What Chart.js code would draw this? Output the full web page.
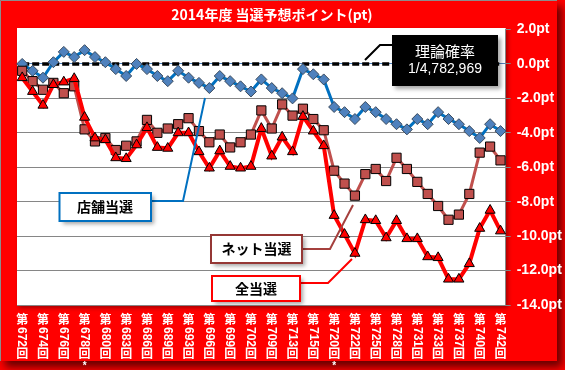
<!DOCTYPE html>
<html lang="ja">
<head>
<meta charset="UTF-8" />
<title>2014年度 当選予想ポイント(pt)</title>
<script src="https://cdn.jsdelivr.net/npm/chart.js"></script>
<style>
  * { margin: 0; padding: 0; }
  body { background: #ff0000; width: 565px; height: 370px; overflow: hidden; }
  canvas { display: block; }
</style>
</head>
<body>
<canvas id="chart" width="565" height="370"></canvas>
<script>
  /*==== データ ==== */
  // 2回ごとに表示する回号（* は注記付き）
  var kaiLabels = [
    '第672回', '第674回', '第676回', '第678回*', '第680回', '第683回',
    '第686回', '第689回', '第693回', '第696回', '第699回', '第702回',
    '第709回', '第713回', '第715回', '第720回*', '第722回', '第725回',
    '第728回', '第731回', '第733回', '第737回', '第740回', '第742回'
  ];

  // 店舗当選
  var tenpo = [
    0.0, -0.4, -0.8, 0.1, 0.7, 0.4, 0.8, 0.4, 0.1, -0.3, -0.7, 0.0,
    -0.3, -0.7, -1.0, -0.4, -0.8, -1.1, -1.4, -0.7, -1.0, -1.3, -1.6, -0.9,
    -1.4, -1.7, -2.0, -0.3, -0.6, -0.9, -2.5, -2.8, -3.2, -2.5, -2.8, -3.2,
    -3.5, -3.8, -3.2, -3.5, -2.8, -3.2, -3.5, -3.9, -4.3, -3.5, -3.9
  ];

  // ネット当選
  var net = [
    -0.4, -1.0, -1.5, -1.1, -1.7, -1.3, -3.8, -4.5, -4.3, -5.0, -4.75, -4.5,
    -3.25, -4.0, -3.75, -3.5, -3.15, -3.9, -4.55, -4.1, -4.85, -4.55, -4.1, -2.7,
    -3.75, -2.35, -3.0, -2.6, -3.2, -3.85, -6.2, -6.95, -7.65, -6.4, -6.1, -6.8,
    -5.45, -6.1, -6.85, -7.55, -8.25, -9.05, -8.75, -7.55, -5.15, -4.8, -5.6
  ];

  // 全当選
  var zen = [
    -0.8, -1.6, -2.4, -1.2, -1.05, -0.85, -3.1, -4.3, -4.4, -5.45, -5.5, -4.7,
    -3.7, -4.85, -4.9, -4.0, -4.0, -5.1, -6.05, -5.05, -5.95, -6.05, -5.95, -3.75,
    -5.35, -4.25, -5.1, -3.05, -3.9, -4.75, -8.8, -9.9, -11.0, -9.05, -9.1, -10.1,
    -9.1, -10.15, -10.15, -11.2, -11.25, -12.5, -12.5, -11.6, -9.55, -8.5, -9.7
  ];

  // 理論確率（基準線）
  var riron = [
    0, 0, 0, 0, 0, 0, 0, 0, 0, 0, 0, 0, 0, 0, 0, 0, 0, 0, 0, 0, 0, 0, 0, 0,
    0, 0, 0, 0, 0, 0, 0, 0, 0, 0, 0, 0, 0, 0, 0, 0, 0, 0, 0, 0, 0, 0, 0
  ];

  var yTicks = [2, 0, -2, -4, -6, -8, -10, -12, -14];

  // カテゴリ（ラベルのない回は空）
  var categories = [];
  for (var i = 0; i < tenpo.length; i++) {
    categories.push(i % 2 === 0 ? kaiLabels[i / 2] : '');
  }

  var JP = '"Noto Sans CJK JP", sans-serif';
  var LAT = '"Liberation Sans", Arial, sans-serif';

  /*==== 背景・タイトル ==== */
  var backPlugin = {
    id: 'back',
    beforeDraw: function (chart) {
      var ctx = chart.ctx, a = chart.chartArea;
      ctx.save();
      ctx.fillStyle = '#ff0000';
      ctx.fillRect(0, 0, chart.width, chart.height);
      // 外枠の影
      ctx.shadowColor = 'rgba(0,0,0,0.6)';
      ctx.shadowBlur = 8;
      ctx.shadowOffsetX = 5;
      ctx.shadowOffsetY = 6;
      ctx.fillRect(0, 0, 557, 361);
      ctx.restore();

      ctx.save();
      ctx.strokeStyle = '#8c8c8c';
      ctx.lineWidth = 1;
      ctx.beginPath();
      ctx.moveTo(0.5, 361);
      ctx.lineTo(0.5, 0.5);
      ctx.lineTo(557, 0.5);
      ctx.stroke();

      // プロットエリア
      ctx.shadowColor = 'rgba(0,0,0,0.35)';
      ctx.shadowBlur = 4;
      ctx.shadowOffsetX = 2;
      ctx.shadowOffsetY = 2;
      ctx.fillStyle = '#ffffff';
      ctx.fillRect(a.left, a.top - 1.5, a.right - a.left, a.bottom - a.top + 2);
      ctx.restore();

      ctx.save();
      ctx.fillStyle = '#ffffff';
      ctx.textAlign = 'center';
      ctx.textBaseline = 'middle';
      ctx.font = 'bold 14px ' + JP;
      ctx.fillText('2014年度 当選予想ポイント(pt)', 272, 15);
      ctx.restore();
    }
  };

  /*==== 回号ラベル（縦書き） ==== */
  var kaiPlugin = {
    id: 'kai',
    afterDraw: function (chart) {
      var ctx = chart.ctx, xs = chart.scales.x;
      ctx.save();
      ctx.fillStyle = '#ffffff';
      kaiLabels.forEach(function (lab, k) {
        var x = xs.getPixelForValue(k * 2);
        var m = lab.match(/^第(\d+)回(\*?)$/);
        ctx.textAlign = 'center';
        ctx.textBaseline = 'middle';
        ctx.font = 'bold 12px ' + JP;
        ctx.fillText('第', x, 319);
        ctx.fillText('回', x, 353.5);
        if (m[2]) {
          ctx.font = 'bold 10px ' + LAT;
          ctx.fillText('*', x, 366);
        }
        ctx.save();
        ctx.translate(x, 327);
        ctx.rotate(Math.PI / 2);
        ctx.textAlign = 'left';
        ctx.font = 'bold 12px ' + LAT;
        ctx.fillText(m[1], 0, 0.5);
        ctx.restore();
      });
      ctx.restore();
    }
  };

  /*==== 吹き出し ==== */
  function box(ctx, x, y, w, h, fill, stroke) {
    ctx.save();
    ctx.shadowColor = 'rgba(0,0,0,0.35)';
    ctx.shadowBlur = 4;
    ctx.shadowOffsetX = 3;
    ctx.shadowOffsetY = 3;
    ctx.fillStyle = fill;
    ctx.fillRect(x, y, w, h);
    ctx.restore();
    if (stroke) {
      ctx.save();
      ctx.strokeStyle = stroke;
      ctx.lineWidth = 2;
      ctx.strokeRect(x, y, w, h);
      ctx.restore();
    }
  }

  function leader(ctx, pts, color) {
    ctx.save();
    ctx.strokeStyle = color;
    ctx.lineWidth = 2;
    ctx.beginPath();
    ctx.moveTo(pts[0][0], pts[0][1]);
    for (var i = 1; i < pts.length; i++) ctx.lineTo(pts[i][0], pts[i][1]);
    ctx.stroke();
    ctx.restore();
  }

  function label(ctx, text, x, y, font, color) {
    ctx.save();
    ctx.fillStyle = color;
    ctx.font = font;
    ctx.textAlign = 'center';
    ctx.textBaseline = 'middle';
    ctx.fillText(text, x, y);
    ctx.restore();
  }

  var calloutPlugin = {
    id: 'callout',
    afterDatasetsDraw: function (chart) {
      var ctx = chart.ctx;
      // 店舗当選
      leader(ctx, [[151, 201], [183, 201], [205, 98]], '#0070c0');
      box(ctx, 59.5, 193, 91.5, 28, '#ffffff', '#0070c0');
      label(ctx, '店舗当選', 105, 207, 'bold 14px ' + JP, '#000');

      // ネット当選
      leader(ctx, [[302, 249], [330, 249], [353, 205]], '#a5403d');
      box(ctx, 211, 235, 91, 28, '#ffffff', '#953735');
      label(ctx, 'ネット当選', 256.5, 249, 'bold 14px ' + JP, '#000');

      // 全当選
      leader(ctx, [[300, 283], [328, 283], [352, 259]], '#ff0000');
      box(ctx, 212, 276, 88, 25, '#ffffff', '#ff0000');
      label(ctx, '全当選', 256, 288.5, 'bold 14px ' + JP, '#000');

      // 理論確率
      leader(ctx, [[392, 45], [380, 45], [365, 60]], '#000000');
      box(ctx, 392, 35, 106, 51, '#000000', null);
      label(ctx, '理論確率', 445, 51, '15px ' + JP, '#ffffff');
      label(ctx, '1/4,782,969', 445, 69.5, '14px ' + LAT, '#ffffff');
    }
  };

  /*==== グラフ ==== */
  var ctx = document.getElementById('chart').getContext('2d');
  var myChart = new Chart(ctx, {
    type: 'line',
    data: {
      labels: categories,
      datasets: [
        {
          label: '全当選',
          data: zen,
          borderColor: '#ff0000',
          borderWidth: 4,
          pointStyle: 'triangle',
          pointRadius: 5.8,
          pointBackgroundColor: '#ff0000',
          pointBorderColor: '#000000',
          pointBorderWidth: 1,
          order: 1
        },
        {
          label: 'ネット当選',
          data: net,
          borderColor: '#c0504d',
          borderWidth: 3,
          pointStyle: 'rect',
          pointRadius: 6.5,
          pointBackgroundColor: '#c0504d',
          pointBorderColor: '#000000',
          pointBorderWidth: 1,
          order: 2
        },
        {
          label: '店舗当選',
          data: tenpo,
          borderColor: '#0070c0',
          borderWidth: 3,
          pointStyle: 'rectRot',
          pointRadius: 5.5,
          pointBackgroundColor: '#4f81bd',
          pointBorderColor: '#3b4b5e',
          pointBorderWidth: 1,
          order: 3
        },
        {
          label: '理論確率',
          data: riron,
          borderColor: '#000000',
          borderWidth: 3.5,
          borderDash: [7, 3],
          pointRadius: 0,
          order: 4
        }
      ]
    },
    options: {
      responsive: false,
      animation: false,
      devicePixelRatio: 1,
      layout: { padding: { left: 17, top: 29.5, right: 0, bottom: 65 } },
      plugins: {
        legend: { display: false },
        tooltip: { enabled: false }
      },
      elements: { line: { tension: 0 } },
      scales: {
        x: {
          type: 'category',
          offset: true,
          display: false
        },
        y: {
          position: 'right',
          min: -14,
          max: 2,
          afterBuildTicks: function (scale) {
            scale.ticks = yTicks.map(function (v) { return { value: v }; });
          },
          afterFit: function (scale) {
            scale.width = 59.3;
          },
          ticks: {
            color: '#ffffff',
            padding: 6,
            font: { family: '"Liberation Sans", Arial, sans-serif', size: 14, weight: 'bold' },
            callback: function (v) { return v.toFixed(1) + 'pt'; }
          },
          grid: {
            color: function (c) {
              if (c.tick && c.tick.value === 2) return 'rgba(0,0,0,0)';
              if (c.tick && c.tick.value === 0) return '#4f81bd';
              return '#868686';
            },
            tickColor: '#868686',
            tickLength: 5,
            lineWidth: 1
          },
          border: { display: true, color: '#868686' }
        }
      }
    },
    plugins: [backPlugin, kaiPlugin, calloutPlugin]
  });
</script>
</body>
</html>
